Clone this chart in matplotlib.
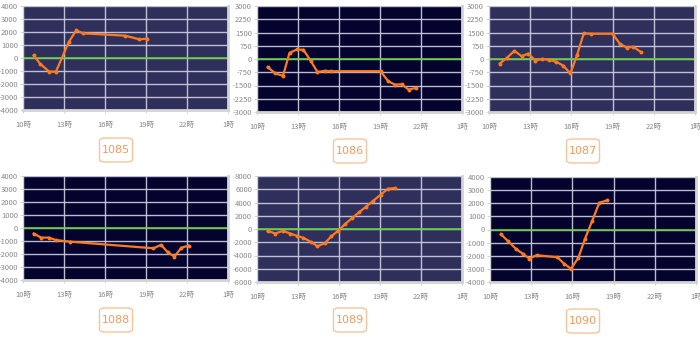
import matplotlib
matplotlib.use("Agg")
import matplotlib.pyplot as plt
from matplotlib.patches import FancyBboxPatch

plt.rcParams['font.family'] = ['Noto Sans CJK JP', 'DejaVu Sans']

# hours (10 = 10時, 25 = 翌1時) and values for each code
codes = ["1085", "1086", "1087", "1088", "1089", "1090"]

hours_1085 = [10.78, 11.26, 11.92, 12.41, 13.36, 13.9, 14.38, 17.46, 18.5, 19.04]
vals_1085 = [200, -450, -1050, -1050, 1250, 2130, 1900, 1720, 1440, 1480]

hours_1086 = [10.78, 11.34, 11.9, 12.38, 12.92, 13.4, 13.94, 14.42, 14.96, 15.45,
              19.04, 19.6, 20.09, 20.58, 21.09, 21.62]
vals_1086 = [-450, -820, -950, 350, 540, 520, -120, -730, -670, -690,
             -690, -1260, -1450, -1430, -1730, -1640]

hours_1087 = [10.78, 11.31, 11.85, 12.38, 12.87, 13.38, 13.89, 14.38, 14.91, 15.4,
              15.93, 16.42, 16.9, 17.46, 19.0, 19.53, 20.02, 20.5, 21.04]
vals_1087 = [-260, 70, 460, 160, 310, -90, 10, -50, -160, -370,
             -820, 250, 1450, 1430, 1430, 860, 650, 690, 410]

hours_1088 = [10.78, 11.34, 11.9, 12.39, 13.41, 19.54, 20.1, 20.59, 21.08, 21.59, 22.13]
vals_1088 = [-430, -740, -740, -920, -1050, -1560, -1300, -1870, -2200, -1510, -1360]

hours_1089 = [10.78, 11.34, 11.9, 12.43, 12.92, 13.4, 13.94, 14.42, 14.96, 15.45,
              15.96, 16.44, 16.98, 17.49, 17.97, 18.51, 19.04, 19.58, 20.11]
vals_1089 = [-280, -680, -280, -680, -1030, -1340, -1940, -2600, -2140, -1080,
             -230, 730, 1690, 2550, 3360, 4260, 5170, 6080, 6180]

hours_1090 = [10.78, 11.33, 11.87, 12.38, 12.86, 13.4, 14.9, 15.41, 15.9, 16.43,
              16.92, 17.45, 17.96, 18.5]
vals_1090 = [-350, -900, -1460, -1840, -2210, -1960, -2110, -2620, -2990, -2160,
             -700, 680, 2040, 2210]

series = [(hours_1085, vals_1085), (hours_1086, vals_1086), (hours_1087, vals_1087),
          (hours_1088, vals_1088), (hours_1089, vals_1089), (hours_1090, vals_1090)]
y_limits = [4000, 3000, 3000, 4000, 8000, 4000]
y_steps = [1000, 750, 750, 1000, 2000, 1000]

x_ticks = [10, 13, 16, 19, 22, 25]
x_labels = ["10時", "13時", "16時", "19時", "22時", "1時"]

bg_colors = ["#2f2f5c", "#03032e", "#2f2f5c", "#03032e", "#2f2f5c", "#03032e"]

# plot area boxes in pixels: left, top, right, bottom
boxes = [(23, 6, 228, 110), (257, 6, 462, 112), (489, 6, 695, 112),
         (23, 176, 228, 280), (257, 176, 462, 282), (490, 177, 696, 282)]
label_pos = [(116, 150), (350, 151), (583, 151), (116, 320), (350, 320), (583, 321)]

W, H = 700, 339
fig = plt.figure(figsize=(W / 100, H / 100), dpi=100)
fig.patch.set_facecolor("white")

for i in range(6):
    l, t, r, b = boxes[i]
    ax = fig.add_axes([l / W, (H - b) / H, (r - l) / W, (b - t) / H])
    ax.set_facecolor(bg_colors[i])
    lim = y_limits[i]
    step = y_steps[i]
    ax.set_xlim(10, 25)
    ax.set_ylim(-lim, lim)
    yt = list(range(-lim, lim + 1, step))
    ax.set_yticks(yt)
    ax.set_yticklabels([str(v) for v in yt])
    ax.set_xticks(x_ticks)
    ax.set_xticklabels(x_labels)
    ax.tick_params(axis="both", labelsize=5.5, colors="#cccccc", labelcolor="#8a8a8a",
                   length=2, width=0.6, pad=1.5)
    ax.tick_params(axis="x", pad=6)
    ax.grid(True, color="#d0d0e0", lw=1.0, alpha=0.9)
    ax.set_axisbelow(True)
    ax.spines["top"].set_visible(False)
    ax.spines["left"].set_color("#d0d0d0")
    ax.spines["left"].set_linewidth(0.8)
    ax.spines["right"].set_color("#d4d4d4")
    ax.spines["right"].set_linewidth(2)
    ax.spines["bottom"].set_color("#d4d4d4")
    ax.spines["bottom"].set_linewidth(2)

    ax.axhline(0, color="#5fcf3a", lw=1.2, zorder=2)
    hrs, vals = series[i]
    ax.plot(hrs, vals, color="#ff7a1e", lw=1.6, marker="o", ms=2.8,
            markeredgewidth=0, zorder=3)

    # code label in a rounded box under the chart
    cx, cy = label_pos[i]
    bw, bh = 33, 24
    box = FancyBboxPatch(((cx - bw / 2) / W, (H - cy - bh / 2) / H), bw / W, bh / H,
                         boxstyle="round,pad=0,rounding_size=0.008",
                         transform=fig.transFigure, facecolor="white",
                         edgecolor="#f9c49a", lw=1.0)
    fig.patches.append(box)
    fig.text(cx / W, (H - cy) / H, codes[i], ha="center", va="center",
             fontsize=8, color="#f39a5c", family=["DejaVu Sans"])

fig.savefig("out.png", dpi=100)
